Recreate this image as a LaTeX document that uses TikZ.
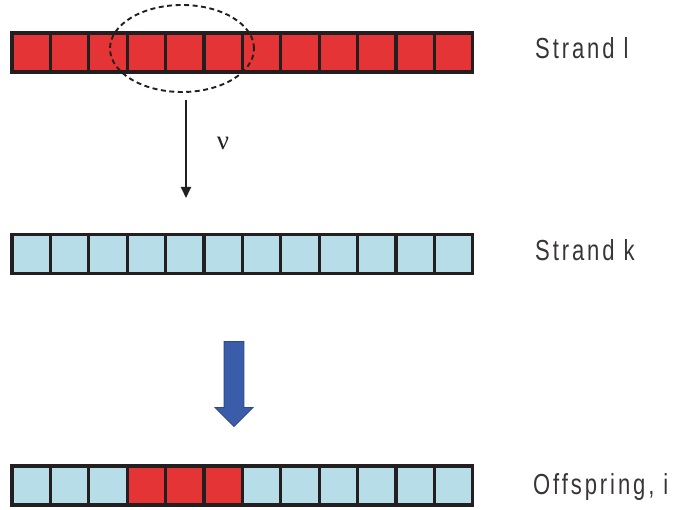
\documentclass[tikz,border=0pt]{standalone}
\usepackage{fontspec}
\usetikzlibrary{shapes.geometric,shapes.arrows,arrows.meta}
\newfontfamily\labelfont[FakeStretch=0.76,LetterSpace=10]{Liberation Sans}
\newfontfamily\greekfont{Liberation Serif}
\definecolor{cellred}{HTML}{E43436}
\definecolor{cellblue}{HTML}{B7DDE8}
\definecolor{arrowblue}{HTML}{3A5CA9}
\definecolor{arrowdark}{HTML}{2B4A8C}
\definecolor{edgeblack}{HTML}{231F20}
\tikzset{
    cell/.style={draw=edgeblack, line width=3.2pt, minimum width=38.4pt, minimum height=39pt, inner sep=0pt},
    strandlabel/.style={anchor=base west, inner sep=0pt, text=edgeblack!90, font=\labelfont\fontsize{29}{29}\selectfont}
}
\begin{document}
\begin{tikzpicture}[x=1pt,y=-1pt]
        \useasboundingbox (0,0) rectangle (673,510);
        % Strand l
        \foreach \i in {1,...,12} {
            \node[cell, fill=cellred] (l\i) at ({12+38.4*(\i-0.5)}, 52.5) {};
        }
        \node[strandlabel] (labl) at (535, 59) {Strand l};
        \node[draw=edgeblack, ellipse, dash pattern=on 5pt off 3.5pt, line width=1.9pt,
              minimum width=144pt, minimum height=87pt, inner sep=0pt] (sel) at (182, 48.5) {};

        % Mutation
        \coordinate (mutop) at (186, 100);
        \coordinate (mubot) at (186, 198);
        \draw[edgeblack, line width=2pt, -{Triangle[width=10pt,length=11pt]}] (mutop) -- (mubot);
        \node[text=edgeblack] (nu) at (223, 143) {\greekfont\fontsize{27}{27}\selectfont ν};

        % Strand k
        \foreach \i in {1,...,12} {
            \node[cell, fill=cellblue] (k\i) at ({12+38.4*(\i-0.5)}, 254) {};
        }
        \node[strandlabel] (labk) at (535, 261) {Strand k};

        % Crossover
        \node[single arrow, shape border rotate=270, fill=arrowblue, draw=arrowdark, line width=0.8pt,
              minimum height=85pt, single arrow head extend=9pt,
              single arrow head indent=0pt, inner sep=9.5pt] (merge) at (234, 379) {};

        % Offspring i
        \foreach \i/\col in {1/cellblue, 2/cellblue, 3/cellblue, 4/cellred, 5/cellred, 6/cellred,
                             7/cellblue, 8/cellblue, 9/cellblue, 10/cellblue, 11/cellblue, 12/cellblue} {
            \node[cell, fill=\col] (o\i) at ({12+38.4*(\i-0.5)}, 485.5) {};
        }
        \node[strandlabel] (labo) at (533, 495) {Offspring, i};
\end{tikzpicture}
\end{document}
